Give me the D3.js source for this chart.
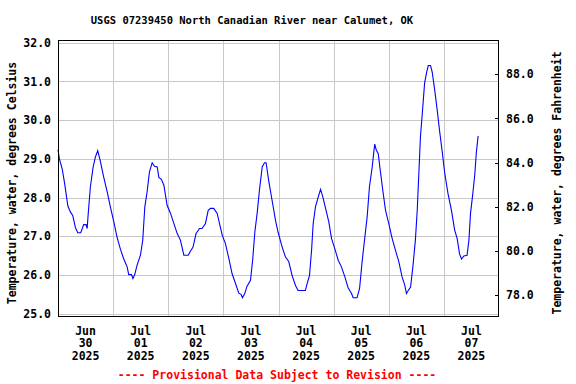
<!DOCTYPE html>
<html>
<head>
<meta charset="utf-8">
<script src="https://cdn.jsdelivr.net/npm/d3@7"></script>
<style>
  body { margin: 0; background: #fff; }
  text { font-family: "DejaVu Sans Mono", monospace; font-weight: bold; }
</style>
</head>
<body>
<div id="chart"></div>
<script>
// hours since 2025-06-30 00:00 (local)
var hours = [0, 0.6, 1.8, 2.9, 4.3, 5.4, 6.4, 7.6, 8.6, 9.9, 11.2, 12.2, 12.7, 13.1, 14.1, 15.3, 16.3, 17.3,
  18.5, 19.9, 21.4, 22.8, 24.3, 25.7, 27.2, 28.6, 30.1, 30.8, 32.0, 32.6, 33.4, 34.4, 35.9, 36.9, 37.8,
  38.8, 39.8, 41.0, 42.0, 43.2, 43.9, 45.0, 46.1, 47.5, 49.0, 50.4, 51.9, 53.3, 54.8, 56.7, 57.7, 58.8,
  60.1, 61.6, 62.7, 64.2, 65.4, 66.4, 67.8, 69.3, 70.3, 71.5, 72.9, 74.4, 75.8, 77.3, 78.7, 79.7, 80.3,
  81.3, 82.3, 83.8, 84.8, 85.7, 86.7, 87.7, 88.9, 89.9, 90.6, 91.8, 93.2, 94.7, 95.8, 97.6, 99.0, 100.5,
  101.9, 103.4, 104.5, 107.7, 108.5, 109.5, 110.4, 111.1, 112.1, 113.1, 114.3, 115.3, 116.5, 117.9,
  119.1, 120.5, 122.0, 123.4, 124.9, 126.3, 127.8, 128.5, 130.2, 131.3, 132.4, 133.6, 134.6, 135.6,
  136.8, 137.5, 137.9, 138.6, 139.4, 140.4, 141.4, 142.6, 144.0, 145.5, 146.9, 148.4, 149.8, 151.0,
  151.7, 152.5, 153.5, 154.5, 155.6, 156.4, 157.1, 157.8, 158.6, 159.6, 160.4, 161.2, 162.2, 162.9,
  164.0, 165.1, 166.1, 167.2, 168.4, 169.8, 171.3, 172.7, 173.8, 174.8, 175.7, 176.7, 178.1, 178.9,
  179.6, 180.6, 181.5, 182.1, 182.9];
var tempC = [29.24, 29.0, 28.75, 28.36, 27.78, 27.63, 27.54, 27.22, 27.09, 27.09, 27.3, 27.3, 27.2, 27.54,
  28.28, 28.79, 29.05, 29.21, 28.92, 28.53, 28.15, 27.76, 27.37, 26.98, 26.66, 26.42, 26.21, 26.01, 26.01,
  25.91, 26.01, 26.25, 26.51, 26.9, 27.76, 28.15, 28.66, 28.9, 28.81, 28.79, 28.52, 28.47, 28.32, 27.8,
  27.59, 27.34, 27.07, 26.9, 26.51, 26.51, 26.62, 26.72, 27.07, 27.2, 27.2, 27.33, 27.67, 27.72, 27.72,
  27.59, 27.33, 27.03, 26.81, 26.42, 26.03, 25.78, 25.53, 25.5, 25.41, 25.52, 25.71, 25.86, 26.42, 27.11,
  27.59, 28.19, 28.79, 28.9, 28.9, 28.41, 27.93, 27.41, 27.11, 26.72, 26.47, 26.34, 25.99, 25.73, 25.6,
  25.6, 25.78, 25.99, 26.64, 27.33, 27.76, 27.97, 28.21, 28.02, 27.72, 27.37, 26.94, 26.68, 26.38, 26.21,
  25.95, 25.67, 25.52, 25.41, 25.41, 25.65, 26.34, 26.98, 27.5, 28.28, 28.79, 29.18, 29.38, 29.22, 29.14,
  28.66, 28.19, 27.67, 27.33, 26.94, 26.64, 26.34, 25.95, 25.73, 25.52, 25.6, 25.69, 26.21, 26.9, 27.67,
  28.62, 29.57, 30.17, 30.95, 31.21, 31.41, 31.41, 31.25, 30.78, 30.26, 29.74, 29.22, 28.62, 28.1, 27.67,
  27.16, 26.94, 26.55, 26.41, 26.49, 26.51, 26.9, 27.59, 28.1, 28.62, 29.14, 29.59];

var celsiusTicks = [25, 26, 27, 28, 29, 30, 31, 32];
var fahrenheitTicks = [78, 80, 82, 84, 86, 88];

var start = new Date(2025, 5, 30);
var end = new Date(2025, 6, 8);

var width = 576, height = 384;
var plot = {left: 58, right: 499, top: 40, bottom: 316};

var svg = d3.select("#chart")
  .append("svg")
    .attr("width", width)
    .attr("height", height);

var x = d3.scaleTime()
  .domain([start, end])
  .range([plot.left, plot.right]);

var y = d3.scaleLinear()
  .domain([24.94, 32.07])
  .range([plot.bottom, plot.top]);

var yF = d3.scaleLinear()
  .domain([77.05, 89.55])
  .range([plot.bottom, plot.top]);

var data = hours.map(function(h, i) {
  return {date: new Date(start.getTime() + h * 3600e3), value: tempC[i]};
});

function crisp(v) { return Math.round(v) + 0.5; }

// grid
var days = d3.timeDay.range(start, end);
svg.append("g")
  .selectAll("line")
  .data(days.slice(1))
  .enter().append("line")
    .attr("x1", function(d) { return crisp(x(d)); })
    .attr("x2", function(d) { return crisp(x(d)); })
    .attr("y1", plot.top)
    .attr("y2", plot.bottom)
    .attr("stroke", "#c8c8c8");

svg.append("g")
  .selectAll("line")
  .data(celsiusTicks)
  .enter().append("line")
    .attr("x1", plot.left)
    .attr("x2", plot.right)
    .attr("y1", function(d) { return crisp(y(d)); })
    .attr("y2", function(d) { return crisp(y(d)); })
    .attr("stroke", "#c8c8c8");

// data line
var line = d3.line()
  .x(function(d) { return x(d.date); })
  .y(function(d) { return y(d.value); });

svg.append("path")
  .datum(data)
  .attr("fill", "none")
  .attr("stroke", "#0000ff")
  .attr("stroke-width", 1.1)
  .attr("d", line);

// frame
svg.append("rect")
  .attr("x", plot.left + 0.5)
  .attr("y", plot.top + 0.5)
  .attr("width", plot.right - plot.left - 1)
  .attr("height", plot.bottom - plot.top)
  .attr("fill", "none")
  .attr("stroke", "#000")
  .attr("shape-rendering", "crispEdges");

// left axis labels
svg.append("g")
  .selectAll("text")
  .data(celsiusTicks)
  .enter().append("text")
    .attr("x", 51)
    .attr("y", function(d) { return y(d); })
    .attr("dy", "0.36em")
    .attr("text-anchor", "end")
    .style("font-size", "11.5px")
    .text(function(d) { return d.toFixed(1); });

// right axis ticks + labels
var rightAxis = svg.append("g");
rightAxis.selectAll("line")
  .data(fahrenheitTicks)
  .enter().append("line")
    .attr("x1", plot.right - 4)
    .attr("x2", plot.right)
    .attr("y1", function(d) { return crisp(yF(d)); })
    .attr("y2", function(d) { return crisp(yF(d)); })
    .attr("stroke", "#000");
rightAxis.selectAll("text")
  .data(fahrenheitTicks)
  .enter().append("text")
    .attr("x", 506)
    .attr("y", function(d) { return yF(d); })
    .attr("dy", "0.36em")
    .style("font-size", "11.5px")
    .text(function(d) { return d.toFixed(1); });

// date labels at noon
var fmtMon = d3.timeFormat("%b"), fmtDay = d3.timeFormat("%d"), fmtYear = d3.timeFormat("%Y");
var dateLabels = svg.append("g")
  .selectAll("text")
  .data(days)
  .enter().append("text")
    .attr("text-anchor", "middle")
    .style("font-size", "11.5px");
dateLabels.each(function(d) {
  var cx = x(d3.timeHour.offset(d, 12));
  var t = d3.select(this);
  t.append("tspan").attr("x", cx).attr("y", 334.5).text(fmtMon(d));
  t.append("tspan").attr("x", cx).attr("y", 347).text(fmtDay(d));
  t.append("tspan").attr("x", cx).attr("y", 359.5).text(fmtYear(d));
});

// title
svg.append("text")
  .attr("x", 252)
  .attr("y", 24)
  .attr("text-anchor", "middle")
  .style("font-size", "10.5px")
  .text("USGS 07239450 North Canadian River near Calumet, OK");

// axis titles
svg.append("text")
  .attr("transform", "translate(12,183) rotate(-90)")
  .attr("dy", "0.36em")
  .attr("text-anchor", "middle")
  .style("font-size", "11.5px")
  .text("Temperature, water, degrees Celsius");

svg.append("text")
  .attr("transform", "translate(557,183) rotate(-90)")
  .attr("dy", "0.36em")
  .attr("text-anchor", "middle")
  .style("font-size", "11.5px")
  .text("Temperature, water, degrees Fahrenheit");

// footer
svg.append("text")
  .attr("x", 277)
  .attr("y", 378.5)
  .attr("text-anchor", "middle")
  .attr("fill", "#ff0000")
  .style("font-size", "11.5px")
  .text("---- Provisional Data Subject to Revision ----");
</script>
</body>
</html>
